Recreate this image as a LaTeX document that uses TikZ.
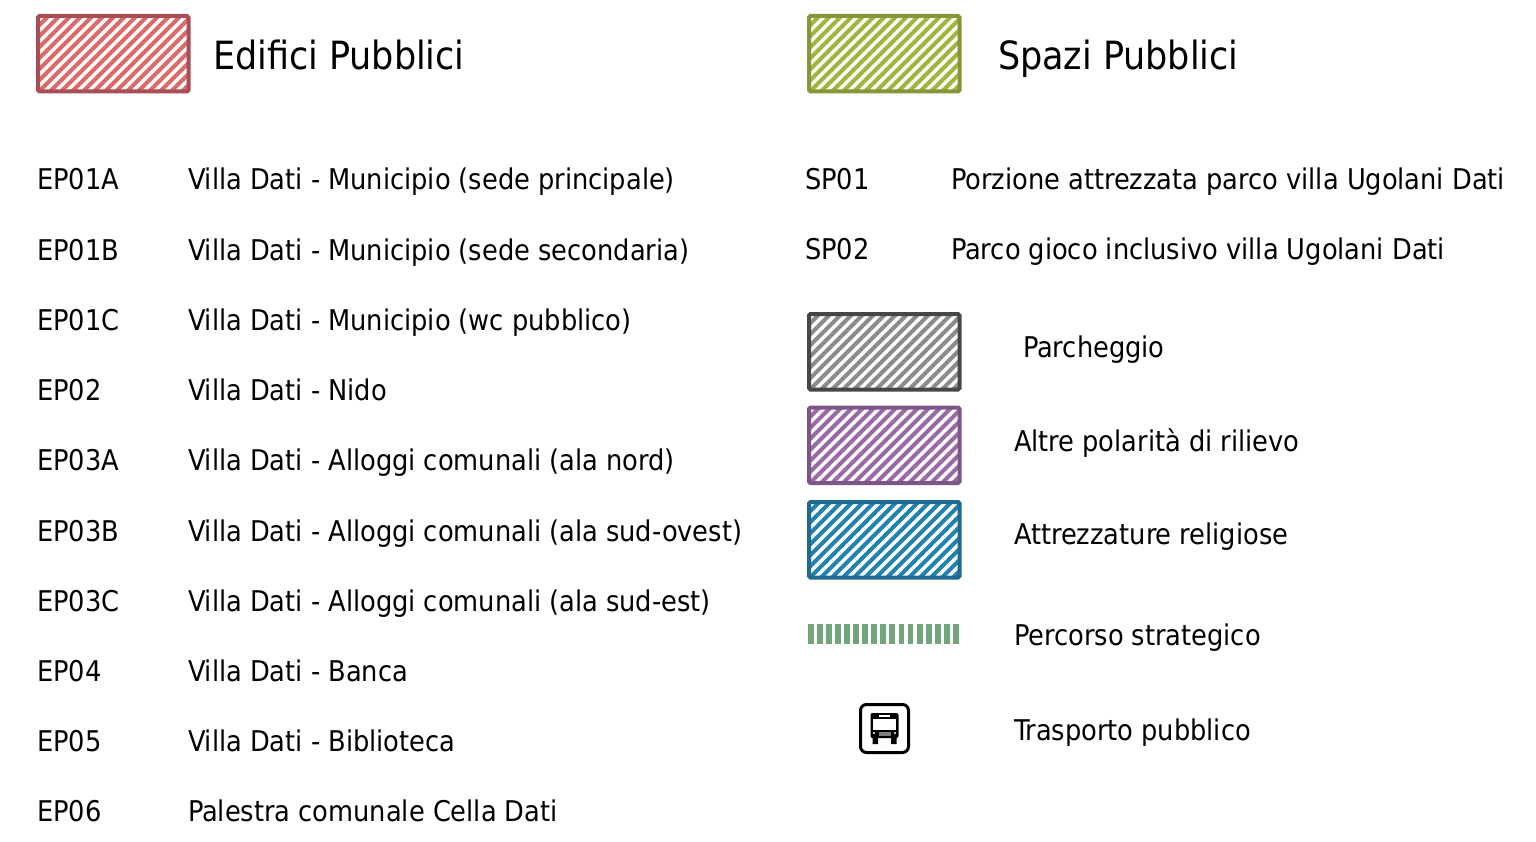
\documentclass[tikz,border=0pt]{standalone}
\usepackage{fontspec}
\setmainfont{DejaVu Sans Condensed}
\newcommand{\rowfont}{\fontsize{28.55}{32}\selectfont}
\newcommand{\headfont}{\fontsize{38.9}{44}\selectfont}
\definecolor{redfill}{HTML}{DB6B6B}\definecolor{redline}{HTML}{A84E55}
\definecolor{greenfill}{HTML}{A3B53F}\definecolor{greenline}{HTML}{84953A}
\definecolor{grayfill}{HTML}{8C8C8C}\definecolor{grayline}{HTML}{45484A}
\definecolor{purplefill}{HTML}{9A6AA6}\definecolor{purpleline}{HTML}{7D5588}
\definecolor{bluefill}{HTML}{2483AE}\definecolor{blueline}{HTML}{1F6A90}
\definecolor{pathgreen}{HTML}{72A57C}
\tikzset{
  x=1pt,y=-1pt,
  txt/.style={anchor=base west,inner sep=0pt,outer sep=0pt,text=black,font=\rowfont},
  headtxt/.style={anchor=base west,inner sep=0pt,outer sep=0pt,text=black,font=\headfont},
  hatchbox/.style n args={2}{draw=#2,line width=4pt,rounded corners=1.5pt,minimum width=150.5pt,minimum height=75.5pt,inner sep=0pt,anchor=north west,
    path picture={
      \foreach \k in {-10,...,24}{
        \draw[#1,line width=4.2pt] ([xshift=\k*11pt,yshift=-45pt]path picture bounding box.south west) -- ++(130pt,130pt);
      }
    }},
}
\begin{document}
\begin{tikzpicture}
\useasboundingbox (0,0) rectangle (1536,842);
\node[hatchbox={redfill}{redline}] (boxEP) at (36,14) {};
\node[headtxt] (titleEP) at (213,70) {Edifici Pubblici};
\node[hatchbox={greenfill}{greenline}] (boxSP) at (807,14) {};
\node[headtxt] (titleSP) at (998,70) {Spazi Pubblici};
\foreach \n/\c/\d [count=\i from 0] in {
 EP01A/EP01A/{Villa Dati - Municipio (sede principale)},
 EP01B/EP01B/{Villa Dati - Municipio (sede secondaria)},
 EP01C/EP01C/{Villa Dati - Municipio (wc pubblico)},
 EP02/EP02/{Villa Dati - Nido},
 EP03A/EP03A/{Villa Dati - Alloggi comunali (ala nord)},
 EP03B/EP03B/{Villa Dati - Alloggi comunali (ala sud-ovest)},
 EP03C/EP03C/{Villa Dati - Alloggi comunali (ala sud-est)},
 EP04/EP04/{Villa Dati - Banca},
 EP05/EP05/{Villa Dati - Biblioteca},
 EP06/EP06/{Palestra comunale Cella Dati}}{
  \node[txt] (code\n) at (37,190+\i*70.2) {\c};
  \node[txt] (desc\n) at (188,190+\i*70.2) {\d};
}
\node[txt] (codeSPa) at (805,190) {SP01};
\node[txt] (descSPa) at (951,190) {Porzione attrezzata parco villa Ugolani Dati};
\node[txt] (codeSPb) at (805,260) {SP02};
\node[txt] (descSPb) at (951,260) {Parco gioco inclusivo villa Ugolani Dati};
\node[hatchbox={grayfill}{grayline}] (boxP) at (807,312) {};
\node[txt] (labP) at (1023,357) {Parcheggio};
\node[hatchbox={purplefill}{purpleline}] (boxA) at (807,405.5) {};
\node[txt] (labA) at (1014,451) {Altre polarità di rilievo};
\node[hatchbox={bluefill}{blueline}] (boxR) at (807,500) {};
\node[txt] (labR) at (1014,544) {Attrezzature religiose};
\coordinate (pathA) at (808,634);
\coordinate (pathB) at (960,634);
\draw[pathgreen,line width=20pt,dash pattern=on 5.9pt off 3.15pt] (pathA) -- (pathB);
\node[txt] (labS) at (1014,645) {Percorso strategico};
\node[draw=black,line width=3pt,rounded corners=6pt,minimum size=48pt,inner sep=0pt] (bus) at (884.5,728.5) {};
\fill[black,rounded corners=2pt] (870.5,713) rectangle (898.5,738);
\fill[black] (872.5,737) rectangle (878,744) (891,737) rectangle (896.5,744);
\fill[white] (873,719) rectangle (896,729.5);
\fill[white] (879,715) rectangle (890,717);
\fill[white] (874,733) circle (1.2) (895,733) circle (1.2);
\fill[gray] (878.5,732) rectangle (890.5,736);
\node[txt] (labB) at (1014,740) {Trasporto pubblico};
\end{tikzpicture}
\end{document}
